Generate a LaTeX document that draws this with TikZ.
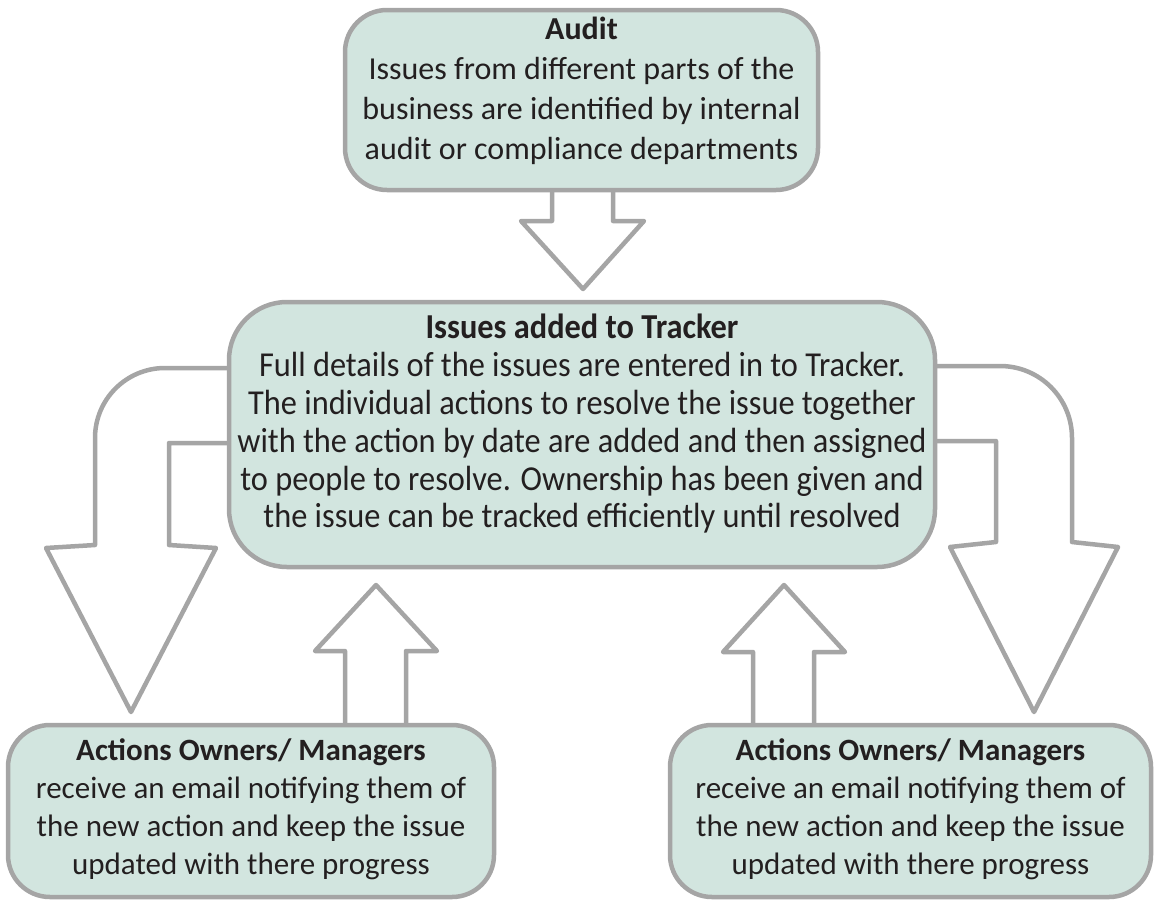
\documentclass[tikz,border=0pt]{standalone}
\usepackage{fontspec}
\setmainfont{Carlito}
\newfontfamily\condfont[FakeStretch=0.925]{Carlito}
\definecolor{boxfill}{HTML}{D2E5DF}
\definecolor{edgegray}{HTML}{A5A5A5}
\definecolor{txt}{HTML}{231F20}
\begin{document}
\begin{tikzpicture}[x=1pt,y=-1pt,
  box/.style={draw=edgegray,fill=boxfill,line width=4.5pt,rounded corners=42pt,inner sep=0pt},
  blockarrow/.style={draw=edgegray,fill=white,line width=4.5pt,line join=round},
  boxtext/.style={text=txt,align=center,inner sep=0pt,font=\fontsize{32}{40}\selectfont}]
\useasboundingbox (0,0) rectangle (1156,905);
% arrows
\draw[blockarrow] (552,186) -- (552,221) -- (521,221) -- (583,289) -- (644,221) -- (613,221) -- (613,186);
\draw[blockarrow] (233,368) -- (165,368) .. controls (126.3,368) and (95,399.3) .. (95,438) -- (95,545) -- (46,548) -- (131,712) -- (216,548) -- (169,545) -- (169,443) -- (233,443);
\draw[blockarrow] (932,366) -- (1000,366) .. controls (1039.8,366) and (1072,398.2) .. (1072,438) -- (1072,542) -- (1118,547) -- (1034,712) -- (950,547) -- (996,542) -- (996,441) -- (932,441);
\draw[blockarrow] (345,728) -- (345,651) -- (315,651) -- (376,585) -- (437,651) -- (406,651) -- (406,728);
\draw[blockarrow] (753,728) -- (753,652) -- (723,652) -- (784,585) -- (845,652) -- (814,652) -- (814,728);
% boxes
\node[box,minimum width=473pt,minimum height=180pt] (audit) at (581.5,100) {};
\node[box,minimum width=706pt,minimum height=265pt,rounded corners=58pt] (mid) at (582,434.5) {};
\node[box,minimum width=486pt,minimum height=172pt] (bl) at (251,811) {};
\node[box,minimum width=481pt,minimum height=172pt] (br) at (910.5,811) {};
% texts
\node[boxtext] (audit-t) at (581.5,91) {\textbf{Audit}\\Issues from different parts of the\\business are identified by internal\\audit or compliance departments};
\node[boxtext,font=\fontsize{35}{37.8}\condfont] (mid-t) at (582,424) {\textbf{Issues added to Tracker}\\Full details of the issues are entered in to Tracker.\\The individual actions to resolve the issue together\\with the action by date are added and then assigned\\to people to resolve. Ownership has been given and\\the issue can be tracked efficiently until resolved};
\node[boxtext,font=\fontsize{31}{38}\selectfont] (bl-t) at (251,809) {\textbf{Actions Owners/ Managers}\\receive an email notifying them of\\the new action and keep the issue\\updated with there progress};
\node[boxtext,font=\fontsize{31}{38}\selectfont] (br-t) at (910.5,809) {\textbf{Actions Owners/ Managers}\\receive an email notifying them of\\the new action and keep the issue\\updated with there progress};
\end{tikzpicture}
\end{document}
